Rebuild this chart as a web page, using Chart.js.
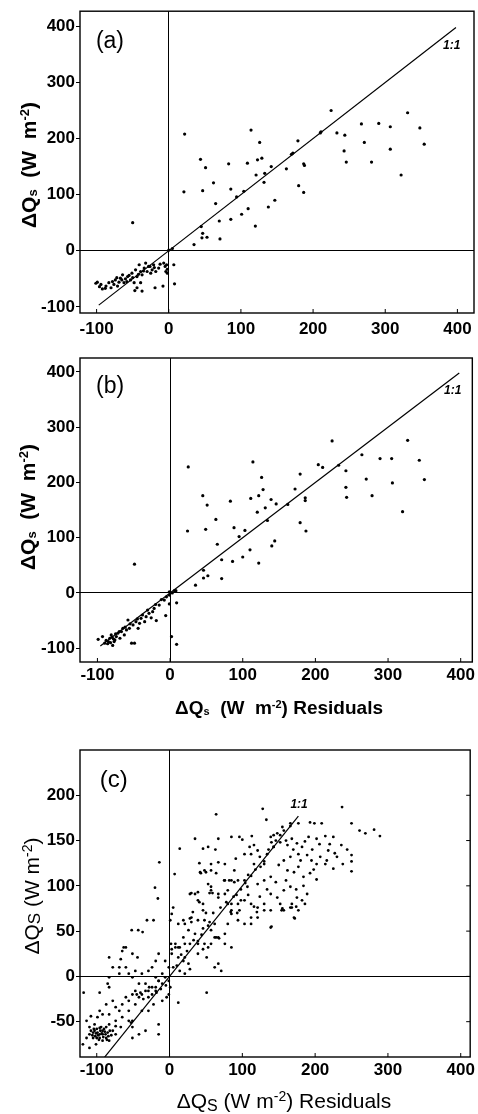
<!DOCTYPE html>
<html>
<head>
<meta charset="utf-8">
<script src="https://cdn.jsdelivr.net/npm/chart.js@4"></script>
<style>
  html, body { margin: 0; padding: 0; background: #fff; }
  canvas { display: block; }
</style>
</head>
<body>
<canvas id="panelA" width="478" height="345"></canvas>
<canvas id="panelB" width="478" height="375"></canvas>
<canvas id="panelC" width="478" height="394"></canvas>
<script>
// ticks
const abXTicks = [-100, 0, 100, 200, 300, 400];
const abYTicks = [-100, 0, 100, 200, 300, 400];
const cXTicks = [-100, 0, 100, 200, 300, 400];
const cYTicks = [-50, 0, 50, 100, 150, 200];

// (a) residuals vs observed
const aPoints = [
  [22,208],[21,105],[44,163],[51,148],[47,107],[62,121],[65,84],[83,155],[86,110],[114,215],
  [109,156],[126,193],[123,162],[129,165],[121,135],[133,138],[132,122],[142,150],[104,106],[94,96],
  [101,65],[110,75],[86,56],[70,53],[71,21],[147,90],[138,78],[120,44],[45,43],[47,31],
  [46,23],[53,24],[35,11],[163,146],[170,172],[179,196],[180,116],[187,155],[188,152],[187,104],
  [210,210],[225,250],[233,210],[244,206],[243,178],[246,158],[267,226],[271,193],[281,158],[291,227],
  [307,221],[307,181],[322,135],[331,246],[348,219],[354,190],[-50,50],[0,1],[5,4],[172,174],[211,212],
  [-99,-56],[-94,-60],[-92,-68],[-87,-63],[-83,-57],[-78,-55],[-76,-60],[-74,-52],[-69,-56],[-67,-49],
  [-64,-43],[-62,-57],[-60,-50],[-55,-44],[-53,-52],[-51,-40],[-48,-57],[-46,-34],[-44,-46],[-41,-25],
  [-39,-37],[-37,-43],[-34,-31],[-32,-22],[-30,-37],[-28,-28],[-25,-40],[-23,-34],[-21,-25],[-18,-37],
  [-14,-31],[-7,-22],[-5,-28],[-4,-37],[-2,-40],[7,-25],[8,-59],[-8,-63],[-19,-66],[-37,-72],
  [-44,-66],[-47,-71],[-39,-57],[-58,-55],[-71,-63],[-80,-66],[-101,-58],[-96,-64],[-88,-67],[-72,-48],
  [-65,-52],[-57,-46],[-50,-48],[-42,-42],[-35,-36],[-26,-28],[-20,-30],[-12,-24],[-3,-25],[-2,-33]
];
const aLine = [[-97, -97], [398, 398]];

// (b)
const bPoints = [
  [25,228],[24,112],[45,176],[51,159],[49,115],[63,133],[65,88],[83,166],[88,118],[103,113],
  [95,102],[114,237],[111,171],[126,209],[122,176],[128,187],[120,146],[131,154],[134,131],[139,169],
  [146,161],[110,78],[100,65],[122,54],[86,57],[71,60],[71,26],[140,85],[144,94],[46,41],
  [46,27],[52,31],[35,14],[162,160],[172,188],[179,215],[179,127],[186,172],[186,167],[187,112],
  [204,232],[210,227],[223,275],[232,231],[242,221],[242,191],[243,173],[264,250],[270,206],[278,176],
  [289,243],[305,243],[306,199],[320,147],[327,276],[343,240],[350,205],[-49,52],[-1,2],[6,4],[3,0],[8,4],
  [-99,-84],[-93,-79],[-90,-91],[-85,-88],[-83,-82],[-81,-76],[-79,-95],[-76,-85],[-74,-79],[-72,-73],
  [-69,-82],[-67,-70],[-65,-64],[-63,-76],[-60,-67],[-58,-49],[-56,-64],[-53,-91],[-49,-91],[-51,-58],
  [-47,-52],[-44,-64],[-42,-55],[-40,-46],[-35,-52],[-33,-43],[-26,-45],[-29,-37],[-24,-34],[-19,-50],
  [-22,-28],[-15,-22],[-8,-13],[-6,-41],[-5,-7],[-1,-4],[-1,-20],[2,-79],[9,-93],[9,-18],
  [-88,-86],[-80,-80],[-77,-88],[-70,-70],[-62,-62],[-55,-56],[-45,-47],[-38,-40],[-31,-31],[-20,-21],
  [-12,-12],[-86,-92],[-82,-90],[-78,-83],[-75,-74]
];
const bLine = [[-96, -96], [398, 398]];

// (c)
const cPoints = [
  [64,179],[128,185],[133,173],[237,187],[250,169],[261,161],[269,158],[281,162],[289,155],[193,170],
  [199,169],[209,169],[177,169],[166,166],[155,165],[143,156],[139,154],[148,158],[140,148],[152,148],
  [85,154],[96,154],[100,151],[113,155],[110,143],[116,145],[67,152],[63,140],[53,143],[46,141],
  [35,152],[14,141],[42,115],[48,117],[57,117],[67,126],[76,124],[89,117],[91,130],[103,135],
  [112,135],[121,139],[116,124],[125,121],[130,127],[134,135],[143,143],[162,145],[168,152],[175,147],
  [182,143],[186,149],[191,154],[202,152],[214,155],[225,154],[236,145],[250,134],[250,127],[250,116],
  [227,136],[218,139],[216,128],[225,119],[207,132],[202,124],[195,128],[189,134],[177,135],[166,132],
  [157,128],[150,123],[162,117],[171,115],[177,121],[184,110],[193,114],[202,107],[214,124],[238,124],
  [139,110],[130,106],[121,102],[112,111],[103,106],[94,106],[85,106],[76,106],[80,95],[67,91],
  [57,99],[53,102],[155,75],[168,76],[171,65],[182,84],[186,80],[139,54],
  [28,91],[35,91],[39,84],[46,80],[57,95],[67,87],[76,91],[80,80],[85,73],[94,80],
  [103,84],[112,80],[121,76],[130,80],[139,91],[148,87],[157,95],[166,99],[175,87],[189,91],
  [177,73],[166,76],[157,73],[152,80],[139,73],[130,73],[121,65],[112,65],[103,58],[112,58],
  [94,62],[85,69],[80,58],[76,47],[67,43],[62,43],[57,51],[48,62],[39,62],[30,65],
  [21,58],[26,51],[35,47],[39,39],[48,36],[57,36],[76,36],[85,32],[21,36],[14,32],
  [8,36],[3,30],[1,62],[3,69],[5,76],[12,58],[19,43],[28,36],[39,25],[46,30],
  [53,32],[67,14],[62,10],[71,6],[51,21],
  [2,36],[8,32],[12,32],[3,25],[12,21],[19,17],[26,14],[28,8],[21,3],[14,6],
  [5,10],[-1,10],[-6,17],[-15,25],[-19,17],[-24,10],[-29,6],[-10,3],[-6,-1],[-1,-5],
  [1,-12],[-1,-20],[-4,-23],[-10,-27],[-19,-16],[-24,-12],[-33,-8],[-42,-8],[-51,-1],[-60,10],
  [-69,10],[-78,10],[-83,-1],[-85,-8],[-83,-12],[-96,-18],[-67,19],[-51,25],[-44,21],[-60,32],
  [-65,28],[-47,6],[-38,3],[-56,3],[-19,-1],[-15,-5],[-10,-8],[51,-18],[12,-29],
  [-22,62],[-43,51],[-52,51],[-37,49],[-31,62],[-14,126],[-20,98],[-16,86],[7,113],[-63,32],
  [-83,21],[-69,3],
  [-118,-18],[-114,-49],[-110,-56],[-103,-60],[-96,-64],[-92,-60],[-87,-56],[-83,-53],[-78,-60],[-74,-64],
  [-96,-68],[-105,-68],[-110,-79],[-101,-75],[-92,-71],[-87,-68],[-96,-38],[-92,-42],[-87,-31],[-78,-27],
  [-74,-34],[-69,-38],[-65,-31],[-60,-23],[-56,-27],[-51,-20],[-47,-16],[-42,-23],[-38,-20],[-33,-16],
  [-29,-16],[-24,-20],[-19,-12],[-65,-45],[-56,-49],[-51,-56],[-47,-31],[-38,-38],[-74,-49],[-83,-42],
  [-56,-38],[-42,-64],[-33,-60],[-15,-53],[-15,-64],[-29,-38],[-22,-31],[-51,-68],[-83,-71],[-119,-75],
  [-114,-68],[-103,-53],[-99,-45],[-108,-44],[-53,-51],[-74,-55],[-67,-56],
  [-105,-62],[-100,-58],[-98,-65],[-95,-60],[-93,-63],[-90,-58],[-88,-64],[-85,-62],[-82,-60],[-80,-65],
  [-97,-70],[-102,-66],[-108,-60],[-110,-64],[-86,-70],[-94,-56],[-99,-62],[-91,-67],
  [-51,-49],[-29,-23],[-15,-5],[21,21],[39,36],[62,58],[85,80],[107,99],[130,124],[143,143],
  [157,161],[166,169],
  [41,125],[57,124],[43,114],[50,115],[64,114],[75,106],[82,106],[89,104],[104,103],[30,92],
  [39,93],[55,92],[59,92],[41,82],[32,71],[46,73],[50,70],[28,64],[19,62],[30,60],
  [84,71],[93,70],[96,73],[46,53],[53,56],[64,43],[68,42],[116,77],[120,71],[140,55],
  [168,80],[174,77],[172,64],[154,73],
  [-104,-58],[-101,-63],[-96,-57],[-92,-64],[-89,-61],[-84,-66],[-100,-68],[-106,-65],[-45,-20],[-40,-18],
  [-36,-25],[-28,-12],[-18,-18],[-12,-14],[-5,-10],[10,12],[16,24],[24,28],[33,40],[44,46],
  [55,60],[60,70],[70,76],[78,82],[92,90],[98,96],[108,112],[118,118],[124,132],[136,140],
  [146,150],[152,156],[160,150],[170,140],[180,128],[196,140],[206,146],[220,146],[230,132],[244,140],
  [198,118],[184,100],[174,96],[160,106],[146,104],[134,96],[124,88],[108,90],[98,84],[88,88]
];
const cLine = [[-95, -95], [177, 177]];

const FAMILY = '"Liberation Sans", Arial, Helvetica, sans-serif';

// draws a label with small sub/superscript parts, centred on cx,cy
function richText(ctx, parts, cx, cy, size, weight, vertical) {
  ctx.save();
  ctx.translate(cx, cy);
  if (vertical) ctx.rotate(-Math.PI / 2);
  ctx.fillStyle = '#000';
  ctx.textAlign = 'left';
  ctx.textBaseline = 'alphabetic';
  const fontOf = p => weight + ' ' + Math.round(size * (p.scale || 1)) + 'px ' + FAMILY;
  let total = 0;
  parts.forEach(p => { ctx.font = fontOf(p); total += ctx.measureText(p.text).width; });
  let x = -total / 2;
  parts.forEach(p => {
    ctx.font = fontOf(p);
    ctx.fillText(p.text, x, size * 0.36 + (p.shift || 0) * size);
    x += ctx.measureText(p.text).width;
  });
  ctx.restore();
}

// box, inner ticks, panel letter, 1:1 note and axis titles
function makeDecor(o) {
  return {
    id: 'panelDecor',
    afterDraw(chart) {
      const { ctx, chartArea: a, scales: { x, y } } = chart;
      ctx.save();
      ctx.strokeStyle = '#000';
      ctx.lineWidth = 1.4;
      ctx.strokeRect(a.left, a.top, a.right - a.left, a.bottom - a.top);
      ctx.lineWidth = 1;
      ctx.beginPath();
      o.xTicks.forEach(v => {
        const px = x.getPixelForValue(v);
        ctx.moveTo(px, a.bottom);
        ctx.lineTo(px, a.bottom - 4);
      });
      if (o.rightTicks) {
        o.yTicks.forEach(v => {
          const py = y.getPixelForValue(v);
          ctx.moveTo(a.right, py);
          ctx.lineTo(a.right - 4, py);
        });
      }
      ctx.stroke();
      ctx.fillStyle = '#000';
      ctx.textBaseline = 'alphabetic';
      ctx.textAlign = 'left';
      ctx.font = o.letterSize + 'px ' + FAMILY;
      ctx.fillText(o.letter, x.getPixelForValue(o.letterAt[0]), y.getPixelForValue(o.letterAt[1]));
      ctx.font = 'italic bold 12px ' + FAMILY;
      ctx.fillText('1:1', x.getPixelForValue(o.oneAt[0]), y.getPixelForValue(o.oneAt[1]));
      ctx.restore();
      richText(ctx, o.yTitle, o.yTitlePos[0], o.yTitlePos[1], o.yTitleSize, o.titleWeight, true);
      if (o.xTitle) richText(ctx, o.xTitle, o.xTitlePos[0], o.xTitlePos[1], o.xTitleSize, o.titleWeight, false);
    }
  };
}

function makePanel(id, p) {
  const canvas = document.getElementById(id);
  const H = canvas.height;
  const tickFont = { family: FAMILY, size: 17, weight: 'bold' };
  const zeroGrid = c => (c.tick && c.tick.value === 0) ? '#000' : 'rgba(0,0,0,0)';
  return new Chart(canvas, {
    type: 'scatter',
    data: {
      datasets: [
        {
          data: p.points.map(([x, y]) => ({ x, y })),
          backgroundColor: '#000',
          borderColor: '#000',
          pointRadius: p.r,
          pointBorderWidth: 0
        },
        {
          data: p.line.map(([x, y]) => ({ x, y })),
          showLine: true,
          borderColor: '#000',
          borderWidth: 1.2,
          pointRadius: 0
        }
      ]
    },
    options: {
      responsive: false,
      animation: false,
      events: [],
      layout: { padding: { top: p.top, right: 1, left: 0, bottom: 0 } },
      plugins: {
        legend: { display: false },
        tooltip: { enabled: false }
      },
      scales: {
        x: {
          type: 'linear',
          min: p.xMin,
          max: p.xMax,
          afterBuildTicks: s => { s.ticks = p.xTicks.map(v => ({ value: v })); },
          afterFit: s => { s.height = H - p.bottom; },
          border: { display: false },
          grid: { color: zeroGrid, lineWidth: 1, drawTicks: false },
          ticks: { color: '#000', font: tickFont, padding: p.xPad, maxRotation: 0, autoSkip: false }
        },
        y: {
          type: 'linear',
          min: p.yMin,
          max: p.yMax,
          afterBuildTicks: s => { s.ticks = p.yTicks.map(v => ({ value: v })); },
          afterFit: s => { s.width = 80; },
          border: { display: false },
          grid: { color: zeroGrid, lineWidth: 1, drawTicks: true, tickLength: 4, tickColor: '#000' },
          ticks: { color: '#000', font: tickFont, padding: 1, autoSkip: false }
        }
      }
    },
    plugins: [makeDecor(p.decor)]
  });
}

const boldTitle = [
  { text: 'ΔQ' }, { text: 's', scale: 0.6, shift: 0.06 },
  { text: '  (W  m' }, { text: '-2', scale: 0.6, shift: -0.33 }, { text: ')' }
];

makePanel('panelA', {
  points: aPoints, line: aLine, r: 1.6,
  xMin: -123, xMax: 423, yMin: -111, yMax: 427,
  xTicks: abXTicks, yTicks: abYTicks,
  top: 11, bottom: 313, xPad: 6,
  decor: {
    xTicks: abXTicks, yTicks: abYTicks, rightTicks: false,
    letter: '(a)', letterSize: 23, letterAt: [-101, 362],
    oneAt: [380, 360],
    yTitle: boldTitle, yTitlePos: [28, 165], yTitleSize: 21, titleWeight: 'bold'
  }
});

makePanel('panelB', {
  points: bPoints, line: bLine, r: 1.6,
  xMin: -124, xMax: 416, yMin: -125, yMax: 425,
  xTicks: abXTicks, yTicks: abYTicks,
  top: 13, bottom: 317, xPad: 3,
  decor: {
    xTicks: abXTicks, yTicks: abYTicks, rightTicks: false,
    letter: '(b)', letterSize: 23, letterAt: [-102, 362],
    oneAt: [377, 360],
    yTitle: boldTitle, yTitlePos: [27, 162], yTitleSize: 21, titleWeight: 'bold',
    xTitle: [
      { text: 'ΔQ' }, { text: 's', scale: 0.6, shift: 0.06 },
      { text: '  (W  m' }, { text: '-2', scale: 0.6, shift: -0.33 }, { text: ') Residuals' }
    ],
    xTitlePos: [279, 362], xTitleSize: 19
  }
});

makePanel('panelC', {
  points: cPoints, line: cLine, r: 1.4,
  xMin: -123, xMax: 413, yMin: -89, yMax: 250,
  xTicks: cXTicks, yTicks: cYTicks,
  top: 30, bottom: 337, xPad: 3,
  decor: {
    xTicks: cXTicks, yTicks: cYTicks, rightTicks: true,
    letter: '(c)', letterSize: 24, letterAt: [-96, 209],
    oneAt: [166, 186],
    yTitle: [
      { text: 'ΔQ' }, { text: 'S', scale: 0.8, shift: 0.05 },
      { text: ' (W m' }, { text: '-2', scale: 0.65, shift: -0.3 }, { text: ')' }
    ],
    yTitlePos: [31, 176], yTitleSize: 21, titleWeight: 'normal',
    xTitle: [
      { text: 'ΔQ' }, { text: 'S', scale: 0.75, shift: 0.15 },
      { text: ' (W m' }, { text: '-2', scale: 0.65, shift: -0.3 }, { text: ') Residuals' }
    ],
    xTitlePos: [284, 380], xTitleSize: 21
  }
});
</script>
</body>
</html>
